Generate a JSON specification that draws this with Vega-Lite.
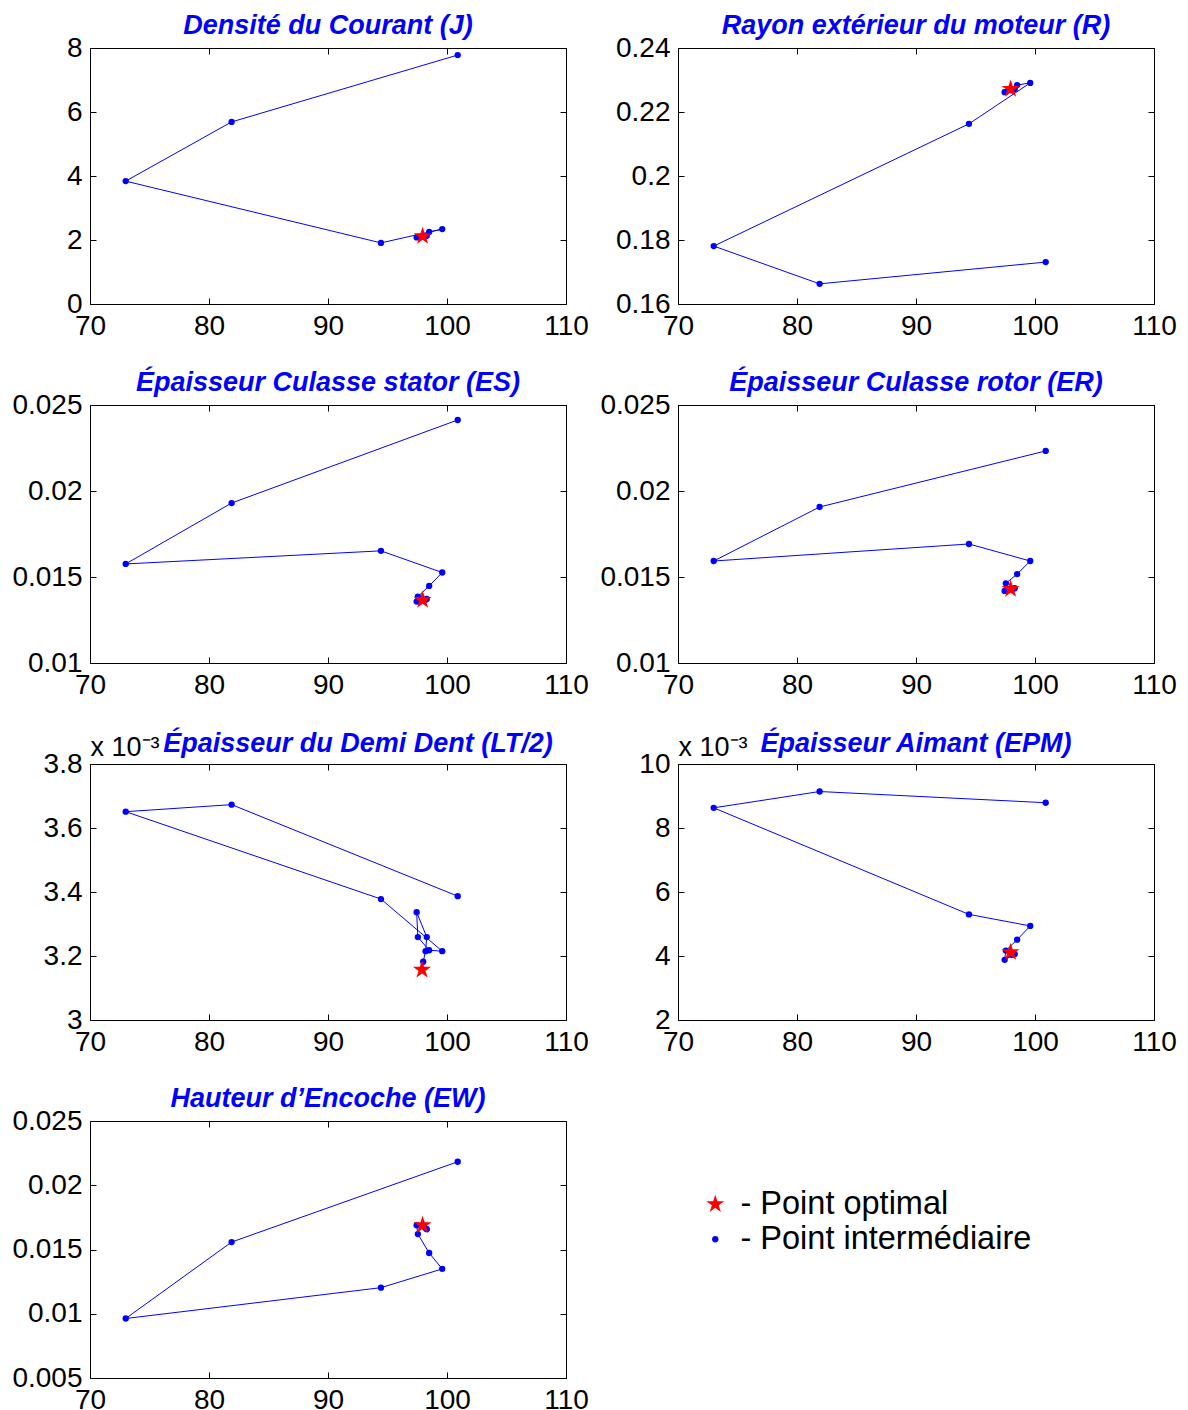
{
  "$schema": "https://vega.github.io/schema/vega-lite/v6.json",
  "padding": {"left": 11, "top": 11, "right": 5, "bottom": 0},
  "background": "white",
  "datasets": {
    "pts": [
      {"p": "J", "i": 1, "x": 100.9, "y": 7.78, "k": "intermédiaire"},
      {"p": "J", "i": 2, "x": 81.9, "y": 5.69, "k": "intermédiaire"},
      {"p": "J", "i": 3, "x": 73.0, "y": 3.84, "k": "intermédiaire"},
      {"p": "J", "i": 4, "x": 94.45, "y": 1.91, "k": "intermédiaire"},
      {"p": "J", "i": 5, "x": 99.6, "y": 2.34, "k": "intermédiaire"},
      {"p": "J", "i": 6, "x": 98.5, "y": 2.25, "k": "intermédiaire"},
      {"p": "J", "i": 7, "x": 97.55, "y": 2.1, "k": "intermédiaire"},
      {"p": "J", "i": 8, "x": 97.45, "y": 2.08, "k": "intermédiaire"},
      {"p": "J", "i": 9, "x": 98.3, "y": 2.13, "k": "intermédiaire"},
      {"p": "J", "i": 10, "x": 98.2, "y": 2.12, "k": "intermédiaire"},
      {"p": "J", "i": 11, "x": 98.0, "y": 2.11, "k": "intermédiaire"},
      {"p": "J", "i": 12, "x": 97.95, "y": 2.12, "k": "optimal"},
      {"p": "R", "i": 1, "x": 100.9, "y": 0.1731, "k": "intermédiaire"},
      {"p": "R", "i": 2, "x": 81.9, "y": 0.1663, "k": "intermédiaire"},
      {"p": "R", "i": 3, "x": 73.0, "y": 0.1781, "k": "intermédiaire"},
      {"p": "R", "i": 4, "x": 94.45, "y": 0.2163, "k": "intermédiaire"},
      {"p": "R", "i": 5, "x": 99.6, "y": 0.2291, "k": "intermédiaire"},
      {"p": "R", "i": 6, "x": 98.5, "y": 0.2284, "k": "intermédiaire"},
      {"p": "R", "i": 7, "x": 97.55, "y": 0.2263, "k": "intermédiaire"},
      {"p": "R", "i": 8, "x": 97.45, "y": 0.2262, "k": "intermédiaire"},
      {"p": "R", "i": 9, "x": 98.3, "y": 0.2272, "k": "intermédiaire"},
      {"p": "R", "i": 10, "x": 98.2, "y": 0.227, "k": "intermédiaire"},
      {"p": "R", "i": 11, "x": 98.0, "y": 0.2268, "k": "intermédiaire"},
      {"p": "R", "i": 12, "x": 97.95, "y": 0.2272, "k": "optimal"},
      {"p": "ES", "i": 1, "x": 100.9, "y": 0.02413, "k": "intermédiaire"},
      {"p": "ES", "i": 2, "x": 81.9, "y": 0.0193, "k": "intermédiaire"},
      {"p": "ES", "i": 3, "x": 73.0, "y": 0.01576, "k": "intermédiaire"},
      {"p": "ES", "i": 4, "x": 94.45, "y": 0.01652, "k": "intermédiaire"},
      {"p": "ES", "i": 5, "x": 99.6, "y": 0.01526, "k": "intermédiaire"},
      {"p": "ES", "i": 6, "x": 98.5, "y": 0.01448, "k": "intermédiaire"},
      {"p": "ES", "i": 7, "x": 97.55, "y": 0.01386, "k": "intermédiaire"},
      {"p": "ES", "i": 8, "x": 97.45, "y": 0.01357, "k": "intermédiaire"},
      {"p": "ES", "i": 9, "x": 98.3, "y": 0.01372, "k": "intermédiaire"},
      {"p": "ES", "i": 10, "x": 98.2, "y": 0.01368, "k": "intermédiaire"},
      {"p": "ES", "i": 11, "x": 98.0, "y": 0.01365, "k": "intermédiaire"},
      {"p": "ES", "i": 12, "x": 97.95, "y": 0.01366, "k": "optimal"},
      {"p": "ER", "i": 1, "x": 100.9, "y": 0.02233, "k": "intermédiaire"},
      {"p": "ER", "i": 2, "x": 81.9, "y": 0.01907, "k": "intermédiaire"},
      {"p": "ER", "i": 3, "x": 73.0, "y": 0.01593, "k": "intermédiaire"},
      {"p": "ER", "i": 4, "x": 94.45, "y": 0.01692, "k": "intermédiaire"},
      {"p": "ER", "i": 5, "x": 99.6, "y": 0.01593, "k": "intermédiaire"},
      {"p": "ER", "i": 6, "x": 98.5, "y": 0.01517, "k": "intermédiaire"},
      {"p": "ER", "i": 7, "x": 97.55, "y": 0.01463, "k": "intermédiaire"},
      {"p": "ER", "i": 8, "x": 97.45, "y": 0.01419, "k": "intermédiaire"},
      {"p": "ER", "i": 9, "x": 98.3, "y": 0.01435, "k": "intermédiaire"},
      {"p": "ER", "i": 10, "x": 98.2, "y": 0.01432, "k": "intermédiaire"},
      {"p": "ER", "i": 11, "x": 98.0, "y": 0.0143, "k": "intermédiaire"},
      {"p": "ER", "i": 12, "x": 97.95, "y": 0.0143, "k": "optimal"},
      {"p": "LT", "i": 1, "x": 100.9, "y": 0.003387, "k": "intermédiaire"},
      {"p": "LT", "i": 2, "x": 81.9, "y": 0.003673, "k": "intermédiaire"},
      {"p": "LT", "i": 3, "x": 73.0, "y": 0.003651, "k": "intermédiaire"},
      {"p": "LT", "i": 4, "x": 94.45, "y": 0.003378, "k": "intermédiaire"},
      {"p": "LT", "i": 5, "x": 99.6, "y": 0.003215, "k": "intermédiaire"},
      {"p": "LT", "i": 6, "x": 98.5, "y": 0.003218, "k": "intermédiaire"},
      {"p": "LT", "i": 7, "x": 97.55, "y": 0.003259, "k": "intermédiaire"},
      {"p": "LT", "i": 8, "x": 97.45, "y": 0.003337, "k": "intermédiaire"},
      {"p": "LT", "i": 9, "x": 98.3, "y": 0.003259, "k": "intermédiaire"},
      {"p": "LT", "i": 10, "x": 98.2, "y": 0.003215, "k": "intermédiaire"},
      {"p": "LT", "i": 11, "x": 98.0, "y": 0.003182, "k": "intermédiaire"},
      {"p": "LT", "i": 12, "x": 97.9, "y": 0.003157, "k": "optimal"},
      {"p": "EPM", "i": 1, "x": 100.9, "y": 0.00879, "k": "intermédiaire"},
      {"p": "EPM", "i": 2, "x": 81.9, "y": 0.00914, "k": "intermédiaire"},
      {"p": "EPM", "i": 3, "x": 73.0, "y": 0.00863, "k": "intermédiaire"},
      {"p": "EPM", "i": 4, "x": 94.45, "y": 0.0053, "k": "intermédiaire"},
      {"p": "EPM", "i": 5, "x": 99.6, "y": 0.00494, "k": "intermédiaire"},
      {"p": "EPM", "i": 6, "x": 98.5, "y": 0.00451, "k": "intermédiaire"},
      {"p": "EPM", "i": 7, "x": 97.55, "y": 0.00417, "k": "intermédiaire"},
      {"p": "EPM", "i": 8, "x": 97.45, "y": 0.00388, "k": "intermédiaire"},
      {"p": "EPM", "i": 9, "x": 98.3, "y": 0.00406, "k": "intermédiaire"},
      {"p": "EPM", "i": 10, "x": 98.2, "y": 0.00405, "k": "intermédiaire"},
      {"p": "EPM", "i": 11, "x": 98.0, "y": 0.00404, "k": "intermédiaire"},
      {"p": "EPM", "i": 12, "x": 97.95, "y": 0.00412, "k": "optimal"},
      {"p": "EW", "i": 1, "x": 100.9, "y": 0.02183, "k": "intermédiaire"},
      {"p": "EW", "i": 2, "x": 81.9, "y": 0.01558, "k": "intermédiaire"},
      {"p": "EW", "i": 3, "x": 73.0, "y": 0.00963, "k": "intermédiaire"},
      {"p": "EW", "i": 4, "x": 94.45, "y": 0.01203, "k": "intermédiaire"},
      {"p": "EW", "i": 5, "x": 99.6, "y": 0.01349, "k": "intermédiaire"},
      {"p": "EW", "i": 6, "x": 98.5, "y": 0.01473, "k": "intermédiaire"},
      {"p": "EW", "i": 7, "x": 97.55, "y": 0.0162, "k": "intermédiaire"},
      {"p": "EW", "i": 8, "x": 97.45, "y": 0.01689, "k": "intermédiaire"},
      {"p": "EW", "i": 9, "x": 98.3, "y": 0.01658, "k": "intermédiaire"},
      {"p": "EW", "i": 10, "x": 98.2, "y": 0.01665, "k": "intermédiaire"},
      {"p": "EW", "i": 11, "x": 98.0, "y": 0.0168, "k": "intermédiaire"},
      {"p": "EW", "i": 12, "x": 97.95, "y": 0.01689, "k": "optimal"}
    ]
  },
  "data": {"name": "pts"},
  "columns": 2,
  "bounds": "flush",
  "spacing": {"row": 101, "column": 112},
  "resolve": {"scale": {"color": "independent", "shape": "independent", "size": "independent"}},
  "concat": [
    {
      "width": 476, "height": 256,
      "title": "Densité du Courant (J)",
      "transform": [{"filter": "datum.p === 'J'"}],
      "resolve": {"axis": {"x": "independent", "y": "independent"}},
      "layer": [
        {"mark": {"type": "line", "color": "#0000ff", "strokeWidth": 1},
         "transform": [{"filter": "datum.k === 'intermédiaire'"}],
         "encoding": {
           "x": {"field": "x", "type": "quantitative", "title": null, "scale": {"domain": [70, 110]}, "axis": {"values": [70, 80, 90, 100, 110]}},
           "y": {"field": "y", "type": "quantitative", "title": null, "scale": {"domain": [0, 8]}, "axis": {"values": [0, 2, 4, 6, 8]}},
           "order": {"field": "i"}}},
        {"mark": {"type": "point", "filled": true, "opacity": 1, "strokeWidth": 0},
         "encoding": {
           "x": {"field": "x", "type": "quantitative", "title": null, "scale": {"domain": [70, 110]}, "axis": {"orient": "top", "labels": false, "values": [70, 80, 90, 100, 110]}},
           "y": {"field": "y", "type": "quantitative", "title": null, "scale": {"domain": [0, 8]}, "axis": {"orient": "right", "labels": false, "values": [0, 2, 4, 6, 8]}},
           "color": {"field": "k", "type": "nominal", "scale": {"domain": ["optimal", "intermédiaire"], "range": ["#ff0000", "#0000ff"]}, "legend": null},
           "shape": {"field": "k", "type": "nominal", "scale": {"domain": ["optimal", "intermédiaire"], "range": ["M0,-1L0.2245,-0.309L0.951,-0.309L0.363,0.118L0.588,0.809L0,0.382L-0.588,0.809L-0.363,0.118L-0.951,-0.309L-0.2245,-0.309Z", "circle"]}, "legend": null},
           "size": {"field": "k", "type": "ordinal", "scale": {"domain": ["optimal", "intermédiaire"], "range": [360, 40]}, "legend": null}}}
      ]
    },
    {
      "width": 476, "height": 256,
      "title": "Rayon extérieur du moteur (R)",
      "transform": [{"filter": "datum.p === 'R'"}],
      "resolve": {"axis": {"x": "independent", "y": "independent"}},
      "layer": [
        {"mark": {"type": "line", "color": "#0000ff", "strokeWidth": 1},
         "transform": [{"filter": "datum.k === 'intermédiaire'"}],
         "encoding": {
           "x": {"field": "x", "type": "quantitative", "title": null, "scale": {"domain": [70, 110]}, "axis": {"values": [70, 80, 90, 100, 110]}},
           "y": {"field": "y", "type": "quantitative", "title": null, "scale": {"domain": [0.16, 0.24]}, "axis": {"values": [0.16, 0.18, 0.2, 0.22, 0.24], "format": "~g"}},
           "order": {"field": "i"}}},
        {"mark": {"type": "point", "filled": true, "opacity": 1, "strokeWidth": 0},
         "encoding": {
           "x": {"field": "x", "type": "quantitative", "title": null, "scale": {"domain": [70, 110]}, "axis": {"orient": "top", "labels": false, "values": [70, 80, 90, 100, 110]}},
           "y": {"field": "y", "type": "quantitative", "title": null, "scale": {"domain": [0.16, 0.24]}, "axis": {"orient": "right", "labels": false, "values": [0.16, 0.18, 0.2, 0.22, 0.24]}},
           "color": {"field": "k", "type": "nominal", "scale": {"domain": ["optimal", "intermédiaire"], "range": ["#ff0000", "#0000ff"]}, "legend": null},
           "shape": {"field": "k", "type": "nominal", "scale": {"domain": ["optimal", "intermédiaire"], "range": ["M0,-1L0.2245,-0.309L0.951,-0.309L0.363,0.118L0.588,0.809L0,0.382L-0.588,0.809L-0.363,0.118L-0.951,-0.309L-0.2245,-0.309Z", "circle"]}, "legend": null},
           "size": {"field": "k", "type": "ordinal", "scale": {"domain": ["optimal", "intermédiaire"], "range": [360, 40]}, "legend": null}}}
      ]
    },
    {
      "width": 476, "height": 258,
      "title": "Épaisseur Culasse stator (ES)",
      "transform": [{"filter": "datum.p === 'ES'"}],
      "resolve": {"axis": {"x": "independent", "y": "independent"}},
      "layer": [
        {"mark": {"type": "line", "color": "#0000ff", "strokeWidth": 1},
         "transform": [{"filter": "datum.k === 'intermédiaire'"}],
         "encoding": {
           "x": {"field": "x", "type": "quantitative", "title": null, "scale": {"domain": [70, 110]}, "axis": {"values": [70, 80, 90, 100, 110]}},
           "y": {"field": "y", "type": "quantitative", "title": null, "scale": {"domain": [0.01, 0.025]}, "axis": {"values": [0.01, 0.015, 0.02, 0.025], "format": "~g"}},
           "order": {"field": "i"}}},
        {"mark": {"type": "point", "filled": true, "opacity": 1, "strokeWidth": 0},
         "encoding": {
           "x": {"field": "x", "type": "quantitative", "title": null, "scale": {"domain": [70, 110]}, "axis": {"orient": "top", "labels": false, "values": [70, 80, 90, 100, 110]}},
           "y": {"field": "y", "type": "quantitative", "title": null, "scale": {"domain": [0.01, 0.025]}, "axis": {"orient": "right", "labels": false, "values": [0.01, 0.015, 0.02, 0.025]}},
           "color": {"field": "k", "type": "nominal", "scale": {"domain": ["optimal", "intermédiaire"], "range": ["#ff0000", "#0000ff"]}, "legend": null},
           "shape": {"field": "k", "type": "nominal", "scale": {"domain": ["optimal", "intermédiaire"], "range": ["M0,-1L0.2245,-0.309L0.951,-0.309L0.363,0.118L0.588,0.809L0,0.382L-0.588,0.809L-0.363,0.118L-0.951,-0.309L-0.2245,-0.309Z", "circle"]}, "legend": null},
           "size": {"field": "k", "type": "ordinal", "scale": {"domain": ["optimal", "intermédiaire"], "range": [360, 40]}, "legend": null}}}
      ]
    },
    {
      "width": 476, "height": 258,
      "title": "Épaisseur Culasse rotor (ER)",
      "transform": [{"filter": "datum.p === 'ER'"}],
      "resolve": {"axis": {"x": "independent", "y": "independent"}},
      "layer": [
        {"mark": {"type": "line", "color": "#0000ff", "strokeWidth": 1},
         "transform": [{"filter": "datum.k === 'intermédiaire'"}],
         "encoding": {
           "x": {"field": "x", "type": "quantitative", "title": null, "scale": {"domain": [70, 110]}, "axis": {"values": [70, 80, 90, 100, 110]}},
           "y": {"field": "y", "type": "quantitative", "title": null, "scale": {"domain": [0.01, 0.025]}, "axis": {"values": [0.01, 0.015, 0.02, 0.025], "format": "~g"}},
           "order": {"field": "i"}}},
        {"mark": {"type": "point", "filled": true, "opacity": 1, "strokeWidth": 0},
         "encoding": {
           "x": {"field": "x", "type": "quantitative", "title": null, "scale": {"domain": [70, 110]}, "axis": {"orient": "top", "labels": false, "values": [70, 80, 90, 100, 110]}},
           "y": {"field": "y", "type": "quantitative", "title": null, "scale": {"domain": [0.01, 0.025]}, "axis": {"orient": "right", "labels": false, "values": [0.01, 0.015, 0.02, 0.025]}},
           "color": {"field": "k", "type": "nominal", "scale": {"domain": ["optimal", "intermédiaire"], "range": ["#ff0000", "#0000ff"]}, "legend": null},
           "shape": {"field": "k", "type": "nominal", "scale": {"domain": ["optimal", "intermédiaire"], "range": ["M0,-1L0.2245,-0.309L0.951,-0.309L0.363,0.118L0.588,0.809L0,0.382L-0.588,0.809L-0.363,0.118L-0.951,-0.309L-0.2245,-0.309Z", "circle"]}, "legend": null},
           "size": {"field": "k", "type": "ordinal", "scale": {"domain": ["optimal", "intermédiaire"], "range": [360, 40]}, "legend": null}}}
      ]
    },
    {
      "width": 476, "height": 256,
      "title": {"text": "Épaisseur du Demi Dent (LT/2)", "dx": 30, "offset": -25},
      "transform": [{"filter": "datum.p === 'LT'"}],
      "resolve": {"axis": {"x": "independent", "y": "independent"}},
      "layer": [
        {"mark": {"type": "line", "color": "#0000ff", "strokeWidth": 1},
         "transform": [{"filter": "datum.k === 'intermédiaire'"}],
         "encoding": {
           "x": {"field": "x", "type": "quantitative", "title": null, "scale": {"domain": [70, 110]}, "axis": {"values": [70, 80, 90, 100, 110]}},
           "y": {"field": "y", "type": "quantitative", "title": "x 10⁻³", "scale": {"domain": [0.003, 0.0038]}, "axis": {"values": [0.003, 0.0032, 0.0034, 0.0036, 0.0038], "labelExpr": "format(datum.value * 1000, '~g')", "titleAngle": 0, "titleAlign": "left", "titleBaseline": "alphabetic", "titleX": 0, "titleY": -9, "titleFontWeight": "normal", "titleFontSize": 27, "titleColor": "black", "titleFont": "Liberation Sans"}},
           "order": {"field": "i"}}},
        {"mark": {"type": "point", "filled": true, "opacity": 1, "strokeWidth": 0},
         "encoding": {
           "x": {"field": "x", "type": "quantitative", "title": null, "scale": {"domain": [70, 110]}, "axis": {"orient": "top", "labels": false, "values": [70, 80, 90, 100, 110]}},
           "y": {"field": "y", "type": "quantitative", "title": null, "scale": {"domain": [0.003, 0.0038]}, "axis": {"orient": "right", "labels": false, "values": [0.003, 0.0032, 0.0034, 0.0036, 0.0038]}},
           "color": {"field": "k", "type": "nominal", "scale": {"domain": ["optimal", "intermédiaire"], "range": ["#ff0000", "#0000ff"]}, "legend": null},
           "shape": {"field": "k", "type": "nominal", "scale": {"domain": ["optimal", "intermédiaire"], "range": ["M0,-1L0.2245,-0.309L0.951,-0.309L0.363,0.118L0.588,0.809L0,0.382L-0.588,0.809L-0.363,0.118L-0.951,-0.309L-0.2245,-0.309Z", "circle"]}, "legend": null},
           "size": {"field": "k", "type": "ordinal", "scale": {"domain": ["optimal", "intermédiaire"], "range": [360, 40]}, "legend": null}}}
      ]
    },
    {
      "width": 476, "height": 256,
      "title": {"text": "Épaisseur Aimant (EPM)", "offset": -25},
      "transform": [{"filter": "datum.p === 'EPM'"}],
      "resolve": {"axis": {"x": "independent", "y": "independent"}},
      "layer": [
        {"mark": {"type": "line", "color": "#0000ff", "strokeWidth": 1},
         "transform": [{"filter": "datum.k === 'intermédiaire'"}],
         "encoding": {
           "x": {"field": "x", "type": "quantitative", "title": null, "scale": {"domain": [70, 110]}, "axis": {"values": [70, 80, 90, 100, 110]}},
           "y": {"field": "y", "type": "quantitative", "title": "x 10⁻³", "scale": {"domain": [0.002, 0.01]}, "axis": {"values": [0.002, 0.004, 0.006, 0.008, 0.01], "labelExpr": "format(datum.value * 1000, '~g')", "titleAngle": 0, "titleAlign": "left", "titleBaseline": "alphabetic", "titleX": 0, "titleY": -9, "titleFontWeight": "normal", "titleFontSize": 27, "titleColor": "black", "titleFont": "Liberation Sans"}},
           "order": {"field": "i"}}},
        {"mark": {"type": "point", "filled": true, "opacity": 1, "strokeWidth": 0},
         "encoding": {
           "x": {"field": "x", "type": "quantitative", "title": null, "scale": {"domain": [70, 110]}, "axis": {"orient": "top", "labels": false, "values": [70, 80, 90, 100, 110]}},
           "y": {"field": "y", "type": "quantitative", "title": null, "scale": {"domain": [0.002, 0.01]}, "axis": {"orient": "right", "labels": false, "values": [0.002, 0.004, 0.006, 0.008, 0.01]}},
           "color": {"field": "k", "type": "nominal", "scale": {"domain": ["optimal", "intermédiaire"], "range": ["#ff0000", "#0000ff"]}, "legend": null},
           "shape": {"field": "k", "type": "nominal", "scale": {"domain": ["optimal", "intermédiaire"], "range": ["M0,-1L0.2245,-0.309L0.951,-0.309L0.363,0.118L0.588,0.809L0,0.382L-0.588,0.809L-0.363,0.118L-0.951,-0.309L-0.2245,-0.309Z", "circle"]}, "legend": null},
           "size": {"field": "k", "type": "ordinal", "scale": {"domain": ["optimal", "intermédiaire"], "range": [360, 40]}, "legend": null}}}
      ]
    },
    {
      "width": 476, "height": 257,
      "title": "Hauteur d’Encoche (EW)",
      "transform": [{"filter": "datum.p === 'EW'"}],
      "resolve": {"axis": {"x": "independent", "y": "independent"}},
      "layer": [
        {"mark": {"type": "line", "color": "#0000ff", "strokeWidth": 1},
         "transform": [{"filter": "datum.k === 'intermédiaire'"}],
         "encoding": {
           "x": {"field": "x", "type": "quantitative", "title": null, "scale": {"domain": [70, 110]}, "axis": {"values": [70, 80, 90, 100, 110]}},
           "y": {"field": "y", "type": "quantitative", "title": null, "scale": {"domain": [0.005, 0.025]}, "axis": {"values": [0.005, 0.01, 0.015, 0.02, 0.025], "format": "~g"}},
           "order": {"field": "i"}}},
        {"mark": {"type": "point", "filled": true, "opacity": 1, "strokeWidth": 0},
         "encoding": {
           "x": {"field": "x", "type": "quantitative", "title": null, "scale": {"domain": [70, 110]}, "axis": {"orient": "top", "labels": false, "values": [70, 80, 90, 100, 110]}},
           "y": {"field": "y", "type": "quantitative", "title": null, "scale": {"domain": [0.005, 0.025]}, "axis": {"orient": "right", "labels": false, "values": [0.005, 0.01, 0.015, 0.02, 0.025]}},
           "color": {"field": "k", "type": "nominal", "scale": {"domain": ["optimal", "intermédiaire"], "range": ["#ff0000", "#0000ff"]},
             "legend": {"orient": "none", "legendX": 609, "legendY": 67, "title": null, "labelExpr": "'- Point ' + datum.label", "labelFontSize": 32.5, "labelFont": "Liberation Sans", "labelColor": "black", "labelOffset": 9, "labelLimit": 0, "rowPadding": 2, "padding": 0, "symbolStrokeWidth": 0}},
           "shape": {"field": "k", "type": "nominal", "scale": {"domain": ["optimal", "intermédiaire"], "range": ["M0,-1L0.2245,-0.309L0.951,-0.309L0.363,0.118L0.588,0.809L0,0.382L-0.588,0.809L-0.363,0.118L-0.951,-0.309L-0.2245,-0.309Z", "circle"]}},
           "size": {"field": "k", "type": "ordinal", "scale": {"domain": ["optimal", "intermédiaire"], "range": [360, 40]}}}}
      ]
    }
  ],
  "config": {
    "font": "Liberation Sans",
    "view": {"stroke": "black", "strokeWidth": 1},
    "axis": {"grid": false, "domain": false, "tickColor": "black", "tickSize": -6, "tickWidth": 1, "labelFontSize": 28, "labelColor": "black", "labelFont": "Liberation Sans", "labelPadding": 14, "labelOverlap": false, "labelFlush": false},
    "title": {"font": "Liberation Sans", "fontSize": 27, "fontWeight": "bold", "fontStyle": "italic", "color": "#0000ff", "offset": -6, "frame": "group", "baseline": "alphabetic"}
  }
}
